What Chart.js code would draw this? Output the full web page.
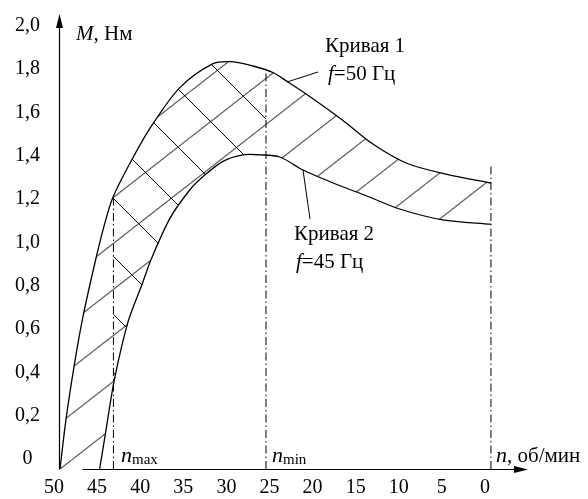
<!DOCTYPE html>
<html>
<head>
<meta charset="utf-8">
<script src="https://cdn.jsdelivr.net/npm/chart.js@4.4.1/dist/chart.umd.min.js"></script>
<style>
  html, body { margin: 0; padding: 0; background: #fff; }
</style>
</head>
<body>
<canvas id="grafica" width="588" height="499"></canvas>
<script>
// Кривая 1, f = 50 Гц
const n1 = [50, 49.3, 48.3, 47.3, 45.9, 44.9, 43.9, 41.9, 39.6, 36.1, 32.3, 30.1, 27.6, 25.3, 23.7, 21.4, 17.2, 13.7, 9.7, 5.1, 0];
const m1 = [0, 0.23, 0.49, 0.71, 0.96, 1.12, 1.25, 1.41, 1.57, 1.76, 1.87, 1.88, 1.86, 1.83, 1.79, 1.73, 1.61, 1.50, 1.41, 1.36, 1.32];

// Кривая 2, f = 45 Гц
const n2 = [45.4, 44.7, 43.7, 42.1, 40.5, 39.4, 37.2, 34.9, 33.4, 31.1, 28.8, 26.8, 24.5, 21.8, 18.3, 14.4, 10.6, 5.6, 0];
const m2 = [0, 0.17, 0.41, 0.68, 0.85, 0.97, 1.16, 1.29, 1.35, 1.42, 1.45, 1.45, 1.44, 1.38, 1.32, 1.26, 1.20, 1.15, 1.13];

// n_max, n_min и n = 0 (штрихпунктир)
const refN = [43.8, 26.1, 0];
const refTop = [1.255, 1.84, 1.41];

const nTicks = [0, 5, 10, 15, 20, 25, 30, 35, 40, 45, 50];
const mTicks = [0, 0.2, 0.4, 0.6, 0.8, 1.0, 1.2, 1.4, 1.6, 1.8, 2.0];

const FONT = '"Liberation Serif", "Times New Roman", serif';

function xy(ns, ms) {
    return ns.map((n, i) => ({ x: n, y: ms[i] }));
}

// diagonal hatch tile: dir 1 = '/', dir -1 = '\'
function hatch(ctx, w, h, dir, dx) {
    const c = document.createElement('canvas');
    c.width = w;
    c.height = h;
    const g = c.getContext('2d');
    g.strokeStyle = '#000';
    g.lineWidth = 1;
    for (let k = -1; k <= 1; k++) {
        g.beginPath();
        if (dir > 0) {
            g.moveTo(k * w, h);
            g.lineTo(k * w + w, 0);
        } else {
            g.moveTo(k * w, 0);
            g.lineTo(k * w + w, h);
        }
        g.stroke();
    }
    const p = ctx.createPattern(c, 'repeat');
    p.setTransform(new DOMMatrix().translate(dx, 0));
    return p;
}

function trace(ctx, pts, back) {
    if (!back) {
        ctx.moveTo(pts[0].x, pts[0].y);
        for (let i = 1; i < pts.length; i++) {
            const p = pts[i - 1], q = pts[i];
            ctx.bezierCurveTo(p.cp2x ?? p.x, p.cp2y ?? p.y, q.cp1x ?? q.x, q.cp1y ?? q.y, q.x, q.y);
        }
    } else {
        const last = pts[pts.length - 1];
        ctx.lineTo(last.x, last.y);
        for (let i = pts.length - 1; i > 0; i--) {
            const p = pts[i], q = pts[i - 1];
            ctx.bezierCurveTo(p.cp1x ?? p.x, p.cp1y ?? p.y, q.cp2x ?? q.x, q.cp2y ?? q.y, q.x, q.y);
        }
    }
}

// text made of pieces [text, italic, size, dy]
function runs(ctx, x, y, parts) {
    for (const [t, it, size, dy] of parts) {
        ctx.font = (it ? 'italic ' : '') + size + 'px ' + FONT;
        ctx.fillText(t, x, y + (dy || 0));
        x += ctx.measureText(t).width;
    }
}

function noPad(s) {
    s.paddingTop = 0;
    s.paddingBottom = 0;
    s.paddingLeft = 0;
    s.paddingRight = 0;
}

const banda = {
    id: 'banda',
    beforeDatasetsDraw(chart) {
        const ctx = chart.ctx;
        const area = chart.chartArea;
        const sx = chart.scales.x, sy = chart.scales.y;
        const l1 = chart.getDatasetMeta(0), l2 = chart.getDatasetMeta(1);
        l1.dataset.updateControlPoints(area, 'x');
        l2.dataset.updateControlPoints(area, 'x');
        const a = l1.data, b = l2.data;
        const path = () => {
            ctx.beginPath();
            trace(ctx, a, false);
            trace(ctx, b, true);
            ctx.closePath();
        };

        // '/' hatching, one stroke running out of the origin
        const W = 59, H = 46;
        const ox = sx.getPixelForValue(n1[0]), oy = sy.getPixelForValue(m1[0]);
        const f = ((ox / W + oy / H) % 1 + 1) % 1;
        ctx.save();
        path();
        ctx.fillStyle = hatch(ctx, W, H, 1, f * W);
        ctx.fill();
        ctx.restore();

        // '\' cross hatching between n_max and n_min
        const xl = sx.getPixelForValue(refN[0]);
        const xr = sx.getPixelForValue(refN[1]);
        ctx.save();
        ctx.beginPath();
        ctx.rect(xl, area.top, xr - xl, area.bottom - area.top);
        ctx.clip();
        path();
        ctx.fillStyle = hatch(ctx, 58, 58, -1, 31);
        ctx.fill();
        ctx.restore();
    },
    afterDraw(chart) {
        const ctx = chart.ctx;
        const area = chart.chartArea;
        const x0 = Math.round(area.left) - 0.5;
        const y0 = Math.round(area.bottom) + 0.5;

        ctx.save();
        ctx.strokeStyle = '#000';
        ctx.fillStyle = '#000';
        ctx.lineWidth = 1.2;

        // axes with arrows
        ctx.beginPath();
        ctx.moveTo(x0, y0);
        ctx.lineTo(x0, area.top + 8);
        ctx.moveTo(x0 + 23, y0);
        ctx.lineTo(area.right - 8, y0);
        ctx.stroke();
        ctx.beginPath();
        ctx.moveTo(x0, area.top);
        ctx.lineTo(x0 - 3.5, area.top + 14);
        ctx.lineTo(x0 + 3.5, area.top + 14);
        ctx.closePath();
        ctx.fill();
        ctx.beginPath();
        ctx.moveTo(area.right, y0);
        ctx.lineTo(area.right - 14, y0 - 3.5);
        ctx.lineTo(area.right - 14, y0 + 3.5);
        ctx.closePath();
        ctx.fill();

        // leader lines
        ctx.lineWidth = 1;
        ctx.beginPath();
        ctx.moveTo(287, 82);
        ctx.lineTo(318, 72);
        ctx.moveTo(303, 170);
        ctx.lineTo(310, 219);
        ctx.stroke();

        ctx.textBaseline = 'alphabetic';
        ctx.textAlign = 'left';
        runs(ctx, 76, 40, [['M', true, 21], [', Нм', false, 21]]);
        runs(ctx, 325, 52, [['Кривая 1', false, 21]]);
        runs(ctx, 328, 80, [['f', true, 21], ['=50 Гц', false, 21]]);
        runs(ctx, 294, 240, [['Кривая 2', false, 21]]);
        runs(ctx, 296, 268, [['f', true, 21], ['=45 Гц', false, 21]]);
        runs(ctx, 121, 462, [['n', true, 22], ['max', false, 15, 2]]);
        runs(ctx, 272, 462, [['n', true, 22], ['min', false, 15, 2]]);
        runs(ctx, 496, 462, [['n', true, 22], [', об/мин', false, 21]]);
        ctx.restore();
    }
};

const refSets = refN.map((n, i) => ({
    data: xy([n, n], [0, refTop[i]]),
    showLine: true,
    borderColor: '#000',
    borderWidth: 1,
    borderDash: [8, 3, 1.5, 3],
    pointRadius: 0,
    tension: 0
}));

new Chart(document.getElementById('grafica').getContext('2d'), {
    type: 'scatter',
    data: {
        datasets: [{
            label: 'Кривая 1',
            data: xy(n1, m1),
            showLine: true,
            borderColor: '#000',
            borderWidth: 1.3,
            pointRadius: 0,
            tension: 0.3
        }, {
            label: 'Кривая 2',
            data: xy(n2, m2),
            showLine: true,
            borderColor: '#000',
            borderWidth: 1.3,
            pointRadius: 0,
            tension: 0.3
        }, ...refSets]
    },
    options: {
        responsive: false,
        animation: false,
        layout: { padding: { top: 14, right: 60, left: 0, bottom: 0 } },
        plugins: {
            legend: { display: false },
            tooltip: { enabled: false }
        },
        scales: {
            x: {
                type: 'linear',
                reverse: true,
                min: -4.3,
                max: 50,
                grid: { display: false, drawTicks: false },
                border: { display: false },
                afterBuildTicks: s => { s.ticks = nTicks.map(v => ({ value: v })); },
                afterFit: s => { s.height = 30; noPad(s); },
                ticks: {
                    color: '#000',
                    font: { family: FONT, size: 20 },
                    padding: 7,
                    labelOffset: -6,
                    maxRotation: 0,
                    autoSkip: false,
                    callback: v => String(v)
                }
            },
            y: {
                min: 0,
                max: 2.1,
                grid: { display: false, drawTicks: false },
                border: { display: false },
                afterBuildTicks: s => { s.ticks = mTicks.map(v => ({ value: v })); },
                afterFit: s => { s.width = 60; noPad(s); },
                ticks: {
                    color: '#000',
                    font: { family: FONT, size: 20 },
                    padding: 20,
                    crossAlign: 'center',
                    labelOffset: -10,
                    callback: v => v === 0 ? '0' : v.toFixed(1).replace('.', ',')
                }
            }
        }
    },
    plugins: [banda]
});
</script>
</body>
</html>
